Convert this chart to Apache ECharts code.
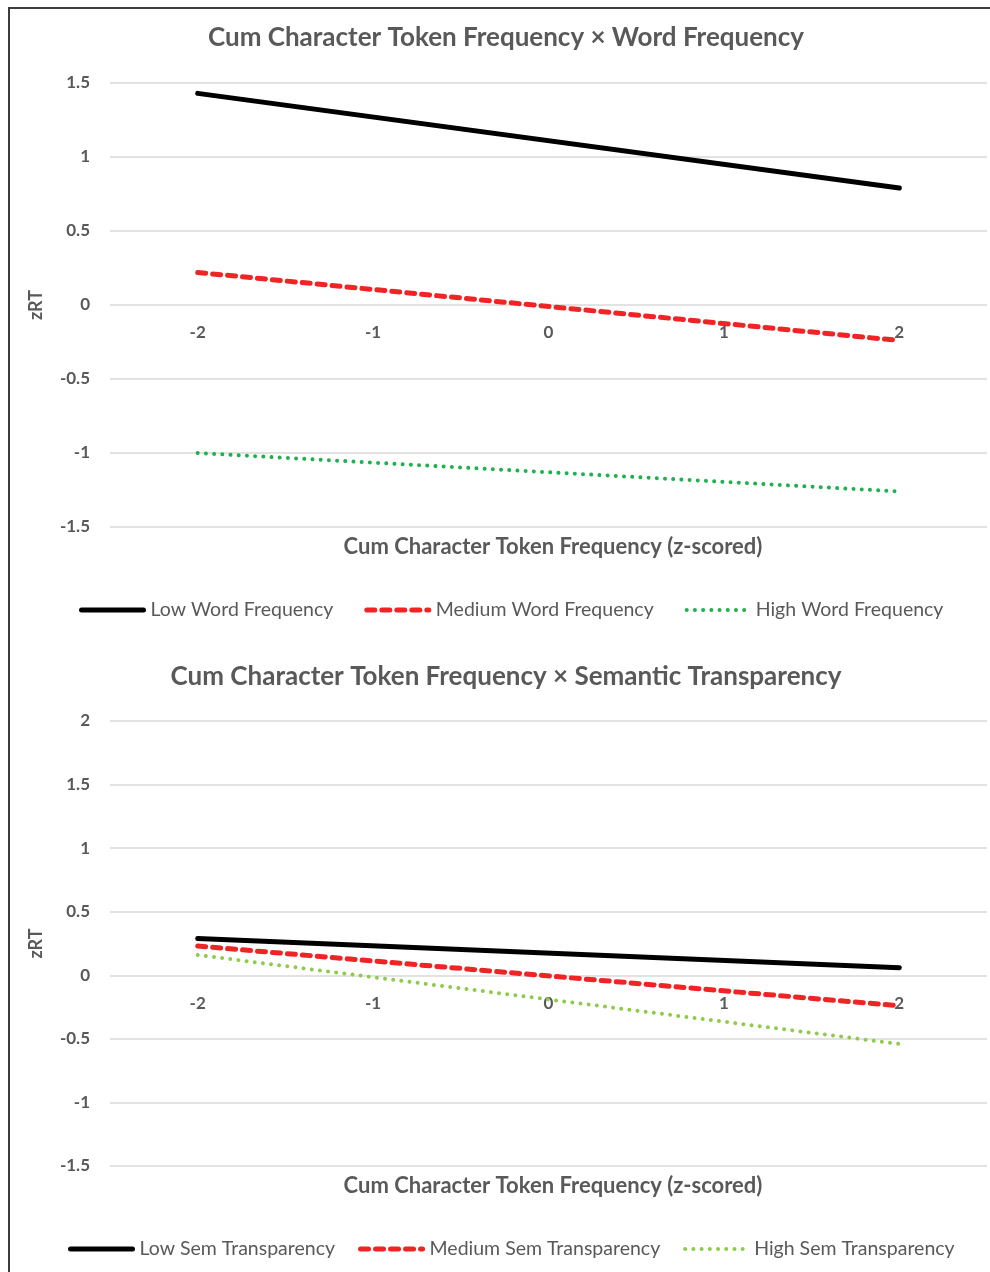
<!DOCTYPE html>
<html>
<head>
<meta charset="utf-8">
<script src="https://cdn.jsdelivr.net/npm/echarts@6/dist/echarts.min.js"></script>
<style>
html,body{margin:0;padding:0;background:#fff;}
#chart{position:absolute;left:0;top:0;width:990px;height:1272px;}
#frame{position:absolute;left:8px;top:7px;width:990px;height:1280px;border-left:2px solid #3c3c3c;border-top:2px solid #3c3c3c;pointer-events:none;}
</style>
</head>
<body>
<div id="chart"></div>
<div id="frame"></div>
<script>
// ---- data ----
const xCategories = ['-2', '-1', '0', '1', '2'];
const yTicks1 = { min: -1.5, max: 1.5, interval: 0.5 };
const yTicks2 = { min: -1.5, max: 2, interval: 0.5 };

const title1 = 'Cum Character Token Frequency × Word Frequency';
const title2 = 'Cum Character Token Frequency × Semantic Transparency';
const xAxisTitle = 'Cum Character Token Frequency (z-scored)';
const yAxisTitle = 'zRT';

const names1 = ['Low Word Frequency', 'Medium Word Frequency', 'High Word Frequency'];
const lowWordFreq    = [1.43, null, null, null, 0.79];
const mediumWordFreq = [0.22, null, null, null, -0.24];
const highWordFreq   = [-1.00, null, null, null, -1.26];

const names2 = ['Low Sem Transparency', 'Medium Sem Transparency', 'High Sem Transparency'];
const lowSemTrans    = [0.29, null, null, null, 0.06];
const mediumSemTrans = [0.23, null, null, null, -0.24];
const highSemTrans   = [0.16, null, null, null, -0.54];

// ---- styles ----
const FONT = 'Lato';
const GRAY = '#595959';
const styleSolid  = { color: '#000000', width: 5, type: 'solid', cap: 'round' };
const styleDash   = { color: '#f02424', width: 5, type: [8, 7], cap: 'round' };
const styleDot1   = { color: '#1fb04f', width: 4, type: [0.01, 8.2], cap: 'round' };
const styleDot2   = { color: '#8fcb4a', width: 4, type: [0.01, 8.2], cap: 'round' };

function mkSeries(name, data, idx, ls) {
  return {
    name: name, type: 'line', data: data, xAxisIndex: idx, yAxisIndex: idx,
    connectNulls: true, symbol: 'none', lineStyle: ls, itemStyle: { color: ls.color },
    z: 3, animation: false
  };
}
function mkX(idx, off) {
  return {
    type: 'category', data: xCategories, gridIndex: idx, boundaryGap: true,
    position: 'bottom', offset: off,
    axisLine: { show: false, onZero: false },
    axisTick: { show: false },
    axisLabel: { color: GRAY, fontFamily: FONT, fontWeight: 'bold', fontSize: 17, margin: 19 }
  };
}
function mkY(idx, t) {
  return {
    type: 'value', gridIndex: idx, min: t.min, max: t.max, interval: t.interval,
    name: yAxisTitle, nameLocation: 'middle', nameRotate: 90, nameGap: 65,
    nameTextStyle: { color: GRAY, fontFamily: FONT, fontWeight: 'bold', fontSize: 18 },
    axisLine: { show: false }, axisTick: { show: false },
    splitLine: { lineStyle: { color: '#d9d9d9', width: 1.5 } },
    axisLabel: { color: GRAY, fontFamily: FONT, fontWeight: 'bold', fontSize: 17, margin: 20 }
  };
}
const legendText = { color: GRAY, fontFamily: FONT, fontSize: 19.5, padding: [0, 0, 0, 2] };
const legendCommon = {
  itemWidth: 62, itemHeight: 5,
  textStyle: legendText,
  itemStyle: { opacity: 0 },
  lineStyle: { width: 'inherit', type: 'inherit', cap: 'round' }
};

const option = {
  backgroundColor: '#ffffff',
  animation: false,
  title: [
    { text: title1, left: 501, top: 20, textAlign: 'center',
      textStyle: { color: GRAY, fontFamily: FONT, fontWeight: 'bold', fontSize: 26 } },
    { text: title2, left: 501, top: 659, textAlign: 'center',
      textStyle: { color: GRAY, fontFamily: FONT, fontWeight: 'bold', fontSize: 26 } },
    { text: xAxisTitle, left: 548, top: 531, textAlign: 'center',
      textStyle: { color: GRAY, fontFamily: FONT, fontWeight: 'bold', fontSize: 22 } },
    { text: xAxisTitle, left: 548, top: 1170, textAlign: 'center',
      textStyle: { color: GRAY, fontFamily: FONT, fontWeight: 'bold', fontSize: 22 } }
  ],
  grid: [
    { left: 110, right: 3, top: 83, height: 444 },
    { left: 110, right: 3, top: 721, height: 445 }
  ],
  xAxis: [mkX(0, -222), mkX(1, -190)],
  yAxis: [mkY(0, yTicks1), mkY(1, yTicks2)],
  legend: [
    Object.assign({ data: names1, left: 74, top: 595, itemGap: 31 }, legendCommon),
    Object.assign({ data: names2, left: 63, top: 1234, itemGap: 23 }, legendCommon)
  ],
  series: [
    mkSeries(names1[0], lowWordFreq, 0, styleSolid),
    mkSeries(names1[1], mediumWordFreq, 0, styleDash),
    mkSeries(names1[2], highWordFreq, 0, styleDot1),
    mkSeries(names2[0], lowSemTrans, 1, styleSolid),
    mkSeries(names2[1], mediumSemTrans, 1, styleDash),
    mkSeries(names2[2], highSemTrans, 1, styleDot2)
  ]
};
const chart = echarts.init(document.getElementById('chart'), null, { renderer: 'canvas' });
chart.setOption(option);
</script>
</body>
</html>
